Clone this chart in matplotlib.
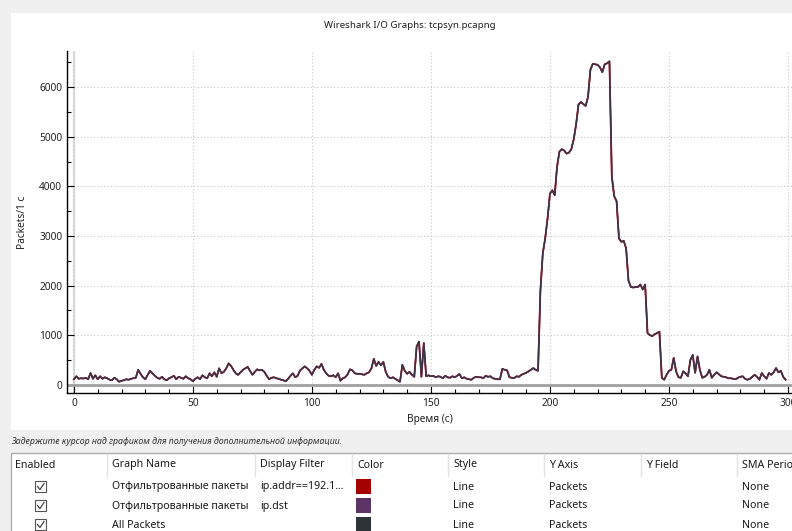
import matplotlib
matplotlib.use('Agg')
import matplotlib.pyplot as plt
from matplotlib.patches import Rectangle
from matplotlib.ticker import MultipleLocator

plt.rcParams['font.family'] = ['Noto Sans', 'DejaVu Sans']

# packets per second (t = 0..299 s)
packets = [
    110, 170, 120, 130, 125, 140, 110, 235, 120, 190,
    110, 170, 120, 150, 130, 100, 90, 140, 110, 60,
    80, 90, 110, 100, 120, 130, 140, 300, 220, 150,
    110, 200, 280, 230, 180, 140, 120, 160, 110, 90,
    130, 150, 180, 110, 160, 140, 120, 170, 130, 110,
    70, 120, 150, 110, 190, 150, 130, 230, 170, 250,
    160, 330, 230, 260, 330, 430, 380, 300, 230, 200,
    250, 300, 330, 360, 280, 200, 260, 310, 290, 300,
    260, 180, 110, 140, 150, 130, 120, 100, 90, 70,
    120, 180, 230, 150, 180, 285, 330, 370, 330, 280,
    200, 300, 370, 340, 420, 300, 230, 180, 170, 190,
    150, 230, 80, 130, 150, 210, 310, 290, 230, 220,
    220, 210, 200, 230, 250, 330, 520, 380, 460, 390,
    460, 260, 160, 130, 150, 120, 90, 60, 400, 280,
    220, 260, 200, 160, 770, 870, 160, 840, 170, 190,
    170, 180, 150, 170, 160, 130, 180, 150, 140, 170,
    150, 180, 215, 130, 150, 120, 110, 100, 140, 160,
    150, 150, 130, 180, 160, 170, 130, 120, 110, 110,
    320, 300, 290, 150, 140, 135, 170, 160, 200, 220,
    240, 270, 300, 335, 300, 280, 1900, 2650, 2950, 3350,
    3850, 3920, 3820, 4400, 4700, 4750, 4720, 4660, 4680, 4750,
    4950, 5250, 5650, 5700, 5660, 5620, 5800, 6350, 6470, 6460,
    6450, 6400, 6300, 6460, 6480, 6520, 4200, 3800, 3700, 2950,
    2880, 2900, 2750, 2100, 1970, 1960, 1970, 1970, 2020, 1920,
    2020, 1040, 1000, 980, 1020, 1040, 1070, 140, 100, 200,
    280, 300, 540, 270, 150, 140, 270, 230, 170, 500,
    600, 240, 570, 300, 140, 160, 200, 300, 140, 200,
    250, 210, 170, 160, 150, 130, 130, 120, 110, 140,
    160, 170, 120, 100, 120, 160, 200, 160, 100, 235,
    170, 120, 235, 200, 250, 335, 250, 280, 160, 100,
]
seconds = list(range(len(packets)))

graph_names = ['Отфильтрованные пакеты', 'Отфильтрованные пакеты', 'All Packets']
graph_filters = ['ip.addr==192.1…', 'ip.dst', '']
graph_colors = ['#a40000', '#5c3566', '#2e3436']
headers = ['Enabled', 'Graph Name', 'Display Filter', 'Color', 'Style',
           'Y Axis', 'Y Field', 'SMA Period']

W, H = 792, 531
fig = plt.figure(figsize=(W / 100, H / 100), dpi=100, facecolor='#f0f0f0')

# background / widgets layer in pixel coordinates
bg = fig.add_axes([0, 0, 1, 1], zorder=0)
bg.set_xlim(0, W)
bg.set_ylim(H, 0)
bg.axis('off')
bg.add_patch(Rectangle((11, 13), W - 11, 417, facecolor='white', edgecolor='none'))
bg.text(410, 25, 'Wireshark I/O Graphs: tcpsyn.pcapng', ha='center', va='center',
        fontsize=7, color='#222222')
bg.text(11, 441, 'Задержите курсор над графиком для получения дополнительной информации.',
        ha='left', va='center', fontsize=6.35, style='italic', color='#333333')

# table of graphs
bg.add_patch(Rectangle((11, 453), W, 100, facecolor='white', edgecolor='#adadad', lw=1))
col_x = [15, 112, 260, 357, 453, 549, 646, 742]
for cx, h in zip(col_x, headers):
    bg.text(cx, 465, h, ha='left', va='center', fontsize=7.7, color='#1a1a1a')
for cx in col_x[1:]:
    bg.plot([cx - 5, cx - 5], [454, 476], color='#e3e3e3', lw=1)
row_y = [487, 506, 525]
for ry, name, flt, col in zip(row_y, graph_names, graph_filters, graph_colors):
    bg.add_patch(Rectangle((35, ry - 6), 11, 11, facecolor='white', edgecolor='#555555', lw=0.8))
    bg.plot([37.5, 40, 44], [ry - 0.5, ry + 2.5, ry - 3.5], color='#444444', lw=0.9)
    bg.text(112, ry, name, ha='left', va='center', fontsize=7.7, color='#1a1a1a')
    bg.text(260, ry, flt, ha='left', va='center', fontsize=7.7, color='#1a1a1a')
    bg.add_patch(Rectangle((356, ry - 8), 15, 15, facecolor=col, edgecolor='none'))
    bg.text(453, ry, 'Line', ha='left', va='center', fontsize=7.7, color='#1a1a1a')
    bg.text(549, ry, 'Packets', ha='left', va='center', fontsize=7.7, color='#1a1a1a')
    bg.text(742, ry, 'None', ha='left', va='center', fontsize=7.7, color='#1a1a1a')

# the I/O graph itself
ax = fig.add_axes([67 / W, 1 - 393 / H, 1 - 67 / W, (393 - 51) / H], zorder=1)
ax.set_facecolor('none')
ax.plot(seconds, packets, color=graph_colors[0], lw=1.3, zorder=3)
ax.plot(seconds, packets, color=graph_colors[1], lw=1.1, zorder=4)
ax.plot(seconds, packets, color=graph_colors[2], lw=0.9, alpha=0.7, zorder=5)
ax.axhline(0, color='#a0a0a0', lw=2, zorder=2)
ax.axvline(0, color='#dadada', lw=1.6, zorder=1)

ax.set_xlim(-2.9, 301.7)
ax.set_ylim(-167, 6728)
ax.xaxis.set_major_locator(MultipleLocator(50))
ax.xaxis.set_minor_locator(MultipleLocator(10))
ax.yaxis.set_major_locator(MultipleLocator(1000))
ax.yaxis.set_minor_locator(MultipleLocator(500))
ax.grid(True, which='major', linestyle=(0, (1, 2)), color='#c8c8c8', lw=0.8)
ax.tick_params(which='major', direction='in', length=5, width=0.8, labelsize=7.3,
               colors='black', labelcolor='#222222')
ax.tick_params(which='minor', direction='in', length=3, width=0.8)
for s in ['top', 'right']:
    ax.spines[s].set_visible(False)
for s in ['left', 'bottom']:
    ax.spines[s].set_linewidth(1)
    ax.spines[s].set_color('black')
ax.set_xlabel('Время (с)', fontsize=7.3, color='#222222', labelpad=4)
ax.set_ylabel('Packets/1 c', fontsize=7.3, color='#222222', labelpad=8)

fig.savefig('out.png', dpi=100, facecolor=fig.get_facecolor())
